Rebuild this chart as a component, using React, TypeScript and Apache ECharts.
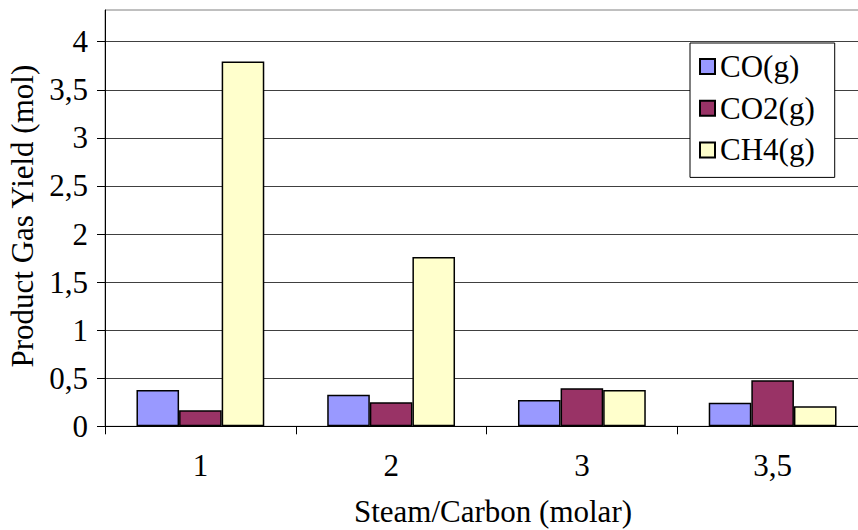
import React, { useEffect, useRef } from "react";
import * as echarts from "echarts";

const categories = ["1", "2", "3", "3,5"];
const seriesNames = ["CO(g)", "CO2(g)", "CH4(g)"];
const coValues = [0.378, 0.329, 0.274, 0.246];
const co2Values = [0.166, 0.25, 0.395, 0.479];
const ch4Values = [3.794, 1.76, 0.378, 0.208];
const yTicks = [0, 0.5, 1, 1.5, 2, 2.5, 3, 3.5, 4];
const colors = ["#9999FF", "#993366", "#FFFFCC"];

const FONT = "Liberation Serif";
const FS = 31;

export default function App() {
  const ref = useRef<HTMLDivElement>(null);
  useEffect(() => {
    if (!ref.current) return;
    const chart = echarts.init(ref.current, null, { renderer: "svg" });
    const data = [coValues, co2Values, ch4Values];
    chart.setOption({
      animation: false,
      backgroundColor: "#ffffff",
      textStyle: { fontFamily: FONT, color: "#000" },
      grid: {
        left: 105,
        top: 10,
        width: 763,
        height: 416.3,
        containLabel: false,
        outerBoundsMode: "none",
        show: true,
        borderColor: "#808080",
        borderWidth: 1,
        backgroundColor: "transparent",
      },
      legend: {
        orient: "vertical",
        left: 690,
        top: 43,
        padding: [8, 20, 12, 9],
        borderColor: "#000",
        borderWidth: 1,
        backgroundColor: "#fff",
        itemWidth: 15,
        itemHeight: 15,
        itemGap: 10.7,
        icon: "rect",
        data: seriesNames,
        textStyle: { fontFamily: FONT, fontSize: FS, color: "#000", lineHeight: 31 },
      },
      xAxis: {
        type: "category",
        data: categories,
        name: "Steam/Carbon (molar)",
        nameLocation: "middle",
        nameGap: 70,
        nameTextStyle: { fontFamily: FONT, fontSize: FS, color: "#000", padding: [0, 0, 0, 13] },
        axisLine: { lineStyle: { color: "#000", width: 1 } },
        axisTick: { show: true, length: 8, inside: false, lineStyle: { color: "#000" } },
        axisLabel: { fontFamily: FONT, fontSize: FS, color: "#000", margin: 24 },
        splitLine: { show: false },
      },
      yAxis: {
        type: "value",
        min: 0,
        max: 4.33,
        interval: 0.5,
        name: "Product Gas Yield (mol)",
        nameLocation: "middle",
        nameGap: 62,
        nameTextStyle: { fontFamily: FONT, fontSize: FS, color: "#000", padding: [0, 0, 0, 4] },
        axisLine: { show: true, lineStyle: { color: "#000", width: 1 } },
        axisTick: { show: true, length: 8, inside: false, lineStyle: { color: "#000" }, customValues: yTicks },
        axisLabel: {
          fontFamily: FONT,
          fontSize: FS,
          color: "#000",
          margin: 17,
          customValues: yTicks,
          formatter: (v: number) => String(v).replace(".", ","),
        },
        splitLine: { show: true, lineStyle: { color: "#404040", width: 1 } },
      },
      series: seriesNames.map((name, i) => ({
        name,
        type: "bar",
        data: data[i],
        barGap: "0%",
        barCategoryGap: "33%",
        itemStyle: { color: colors[i], borderColor: "#000", borderWidth: 1.5 },
      })),
    });
    return () => chart.dispose();
  }, []);
  return (
    <div
      ref={ref}
      style={{ position: "absolute", left: 0, top: 0, width: 858, height: 530 }}
    />
  );
}
